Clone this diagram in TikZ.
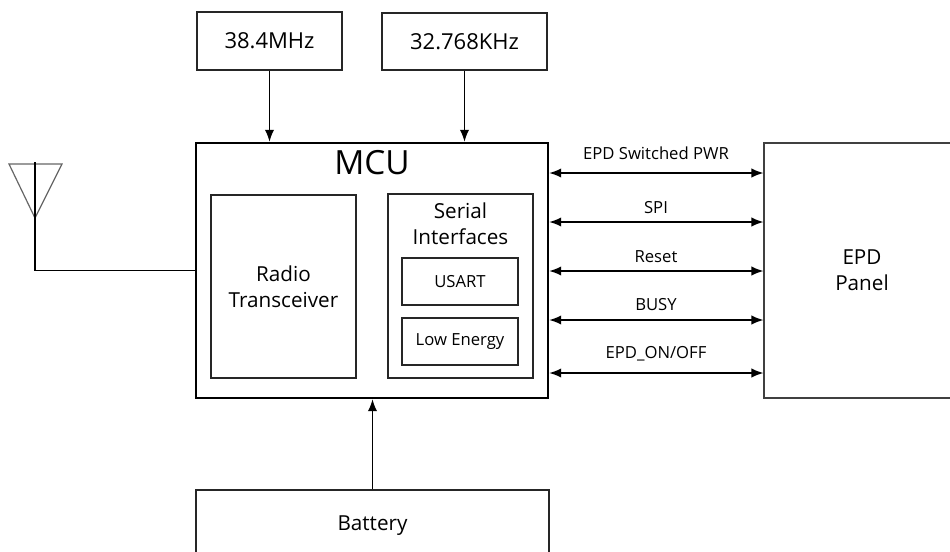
\documentclass[tikz,border=0pt]{standalone}
\usepackage{fontspec}
\setmainfont{Open Sans}
\usetikzlibrary{arrows.meta}

\tikzset{
  block/.style={draw=black!85, line width=0.9pt, inner sep=0pt, align=center,
    font=\fontsize{15.5}{19.5}\selectfont},
  clockbox/.style={block, font=\fontsize{16.5}{20}\selectfont},
  smallbox/.style={block, font=\fontsize{12.5}{15}\selectfont},
  siglabel/.style={font=\fontsize{12.5}{15}\selectfont, inner sep=0pt, anchor=base},
  wire/.style={line width=1.1pt},
}

\begin{document}
\begin{tikzpicture}[x=0.75pt,y=-0.75pt,>={Latex[length=9pt,width=7pt]}]
\useasboundingbox (0,0) rectangle (950,551);
\clip (0,0) rectangle (950,551);

% clocks
\node[clockbox,minimum width=108.75pt,minimum height=43.5pt] (xtalhf) at (269.5,41) {38.4MHz};
\node[clockbox,minimum width=123.75pt,minimum height=42.75pt] (xtallf) at (464.5,41.5) {32.768KHz};

% mcu and its blocks
\node[draw, line width=1.8pt, inner sep=0pt, minimum width=264pt, minimum height=191.25pt] (mcu) at (372,270.5) {};
\node[font=\fontsize{25}{30}\selectfont, inner sep=0pt] (mcutitle) at (372,163) {MCU};
\node[block,minimum width=108.75pt,minimum height=137.25pt] (radio) at (283.5,286.5) {Radio\\Transceiver};
\node[block,minimum width=108.75pt,minimum height=138pt] (serial) at (460.5,286) {};
\node[font=\fontsize{15.5}{19.5}\selectfont, align=center, inner sep=0pt] (serialtitle) at (460.5,224) {Serial\\Interfaces};
\node[smallbox,minimum width=87pt,minimum height=35.25pt] (usart) at (460,281.5) {USART};
\node[smallbox,minimum width=87pt,minimum height=35.25pt] (lowenergy) at (460,341.5) {Low Energy};

% panel and battery
\node[block,draw=black!75,line width=0.8pt,minimum width=147pt,minimum height=191.25pt] (epd) at (862,270.5) {EPD\\Panel};
\node[block,minimum width=264.75pt,minimum height=54pt] (batt) at (372.5,526) {Battery};

% antenna
\draw[black!60, line width=0.9pt] (9,164) -- (62,164) -- (35,218) -- cycle;
\coordinate (ant) at (35,162);
\draw[wire] (ant) |- (mcu.west);

\draw[wire,->] (xtalhf.south) -- (xtalhf.south |- mcu.north);
\draw[wire,->] (xtallf.south) -- (xtallf.south |- mcu.north);
\draw[wire,->] (batt.north) -- (batt.north |- mcu.south);

% lines to the panel
\foreach \yy/\by/\txt [count=\i] in {173/159/EPD Switched PWR, 222/213/SPI, 271/262/Reset, 320/310/BUSY, 373/358/{EPD\_ON/OFF}} {
  \draw[wire,<->] (mcu.east |- 0,\yy) -- (epd.west |- 0,\yy);
  \node[siglabel] (sig\i) at (656,\by) {\txt};
}
\end{tikzpicture}
\end{document}
